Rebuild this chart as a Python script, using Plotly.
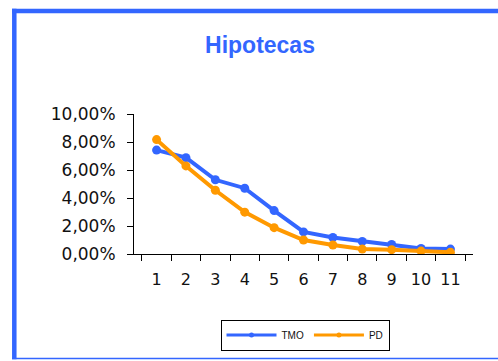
import plotly.graph_objects as go

# Mortgage portfolio: observed default rate (TMO) vs. probability of default (PD) by rating grade
grades = ["1", "2", "3", "4", "5", "6", "7", "8", "9", "10", "11"]
tmo = [0.0742, 0.0688, 0.0530, 0.0470, 0.0310, 0.0158, 0.0118, 0.0090, 0.0068, 0.0040, 0.0035]
pd_vals = [0.0817, 0.0629, 0.0455, 0.0299, 0.0188, 0.0100, 0.0064, 0.0035, 0.0031, 0.0021, 0.0012]
series = [("TMO", tmo, "#3366FF"), ("PD", pd_vals, "#FF9900")]

W, H = 498, 361
L, R, T, B = 134, 25, 114, 106
pw, ph = W - L - R, H - T - B


def px(x):
    return (x - L) / pw


def py(y):
    return (H - B - y) / ph


fig = go.Figure()
for name, vals, color in series:
    fig.add_trace(go.Scatter(
        x=grades, y=vals, name=name, mode="lines+markers", showlegend=False,
        line=dict(color=color, width=4), marker=dict(color=color, size=9, symbol="circle"),
    ))
# Legend entries with a thin line and a small dot, as in the classic spreadsheet key
for name, vals, color in series:
    fig.add_trace(go.Scatter(
        x=[grades[0]], y=[None], name=name, mode="lines+markers",
        line=dict(color=color, width=3), marker=dict(color=color, size=5),
    ))

BLUE = series[0][2]
# Chart-area frame: heavy blue on left and top, thin at the bottom
frame = [
    dict(x0=px(14.3), x1=px(14.3), y0=py(8), y1=py(361), width=4.5),
    dict(x0=px(12), x1=px(500), y0=py(10.3), y1=py(10.3), width=4.5),
    dict(x0=px(12), x1=px(500), y0=py(360.3), y1=py(360.3), width=1.5),
]
for f in frame:
    fig.add_shape(type="line", xref="paper", yref="paper",
                  x0=f["x0"], x1=f["x1"], y0=f["y0"], y1=f["y1"],
                  line=dict(color=BLUE, width=f["width"]), layer="above")

fig.update_layout(
    width=W, height=H,
    margin=dict(l=L, r=R, t=T, b=B),
    paper_bgcolor="white", plot_bgcolor="white",
    separators=",.",
    font=dict(family="Liberation Sans, Arial, sans-serif", color="#111"),
    title=dict(text="<b>Hipotecas</b>", x=260 / W, xanchor="center",
               y=1 - 45 / H, yanchor="middle",
               font=dict(size=23, color=BLUE, family="Liberation Sans, Arial, sans-serif")),
    xaxis=dict(type="category", tickson="boundaries", ticks="outside", ticklen=6,
               tickcolor="black", showline=True, linecolor="black", linewidth=1,
               showgrid=False, ticklabelstandoff=11,
               tickfont=dict(size=16, family="DejaVu Sans, sans-serif")),
    yaxis=dict(range=[0, 0.10], dtick=0.02, tickformat=".2%", ticks="outside",
               ticklen=6, tickcolor="black", showline=True, linecolor="black",
               linewidth=1, showgrid=False, zeroline=False, ticklabelstandoff=8,
               tickfont=dict(size=17, family="DejaVu Sans, sans-serif")),
    showlegend=True,
    legend=dict(orientation="h", x=px(305), xanchor="center", y=py(335), yanchor="middle",
                bordercolor="black", borderwidth=1, bgcolor="white",
                font=dict(size=10, color="#111"), itemwidth=50, tracegroupgap=0),
)

fig.write_html("out.html")
